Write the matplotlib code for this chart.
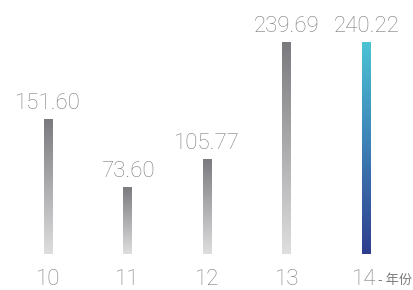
import numpy as np
import matplotlib
matplotlib.use('Agg')
import matplotlib.pyplot as plt
from matplotlib.colors import LinearSegmentedColormap
from matplotlib.patches import Rectangle

years = ['10', '11', '12', '13', '14']
values = [151.60, 73.60, 105.77, 239.69, 240.22]
value_labels = ['151.60', '73.60', '105.77', '239.69', '240.22']
unit_label = '- 年份'

gray_cmap = LinearSegmentedColormap.from_list('g', ['#dededf', '#7a7a7e'])
blue_cmap = LinearSegmentedColormap.from_list('b', ['#2f3d8d', '#3c7fb5', '#4cc3d5'])

fig = plt.figure(figsize=(4.14, 2.9), dpi=100)
ax = fig.add_axes([0, 0, 1, 1])
ax.set_xlim(-0.603, 4.598)
ax.set_ylim(-45.1, 288.0)
ax.axis('off')

txt = '#7c7c7c'
fam = ['Roboto', 'DejaVu Sans']
grad = np.linspace(0, 1, 256).reshape(-1, 1)
w = 0.113
base = -3.8  # bars start a little below zero
for i, (v, lab) in enumerate(zip(values, value_labels)):
    cmap = blue_cmap if i == len(values) - 1 else gray_cmap
    im = ax.imshow(grad, extent=(i - w / 2, i + w / 2, base, v), origin='lower',
                   cmap=cmap, aspect='auto', interpolation='bicubic')
    clip = Rectangle((i - w / 2, base), w, v - base, transform=ax.transData,
                     fc='none', ec='none')
    ax.add_patch(clip)
    im.set_clip_path(clip)
    ax.text(i, v + 11, lab, ha='center', va='baseline', fontsize=16,
            color=txt, family=fam, fontweight='light')
    ax.text(i - 0.03 if i == 4 else i, -39.5, years[i], ha='center', va='baseline',
            fontsize=16, color=txt, family=fam, fontweight='light')

ax.text(4.14, -38.5, unit_label, ha='left', va='baseline', fontsize=9.5,
        color=txt, family=['Noto Sans CJK SC', 'DejaVu Sans'])

fig.savefig('out.png', dpi=100)
